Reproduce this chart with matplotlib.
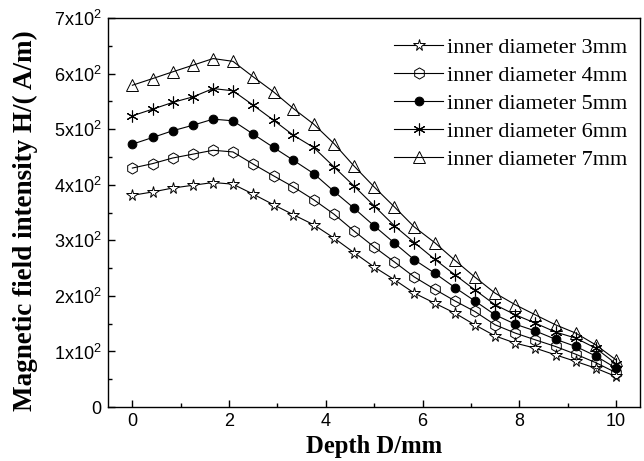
import numpy as np
import matplotlib
matplotlib.use('Agg')
import matplotlib.pyplot as plt
from matplotlib.ticker import MultipleLocator, FuncFormatter

plt.rcParams['mathtext.default'] = 'regular'

depth = [0, 0.42, 0.83, 1.25, 1.67, 2.08, 2.5, 2.92, 3.33, 3.75, 4.17, 4.58, 5.0,
         5.42, 5.83, 6.25, 6.67, 7.08, 7.5, 7.92, 8.33, 8.75, 9.17, 9.58, 10]

h_3mm = [381, 387, 394, 399, 404, 401, 383, 364, 346, 328, 304, 278, 252,
         229, 205, 187, 169, 148, 128, 115, 106, 94, 82, 70, 55]
h_4mm = [430, 438, 448, 455, 462, 459, 437, 416, 396, 373, 347, 317, 288,
         261, 234, 212, 191, 172, 148, 133, 121, 109, 95, 80, 62]
h_5mm = [473, 485, 497, 507, 518, 515, 491, 467, 444, 420, 388, 358, 326,
         295, 265, 241, 215, 191, 166, 149, 137, 122, 109, 92, 70]
h_6mm = [524, 536, 548, 558, 573, 569, 543, 516, 489, 467, 432, 398, 362,
         326, 296, 266, 238, 211, 184, 166, 151, 135, 124, 106, 78]
h_7mm = [579, 591, 603, 615, 627, 622, 594, 567, 537, 509, 474, 434, 396,
         360, 324, 296, 264, 234, 205, 184, 166, 148, 133, 112, 85]

labels = ['inner diameter 3mm', 'inner diameter 4mm', 'inner diameter 5mm',
          'inner diameter 6mm', 'inner diameter 7mm']

fig = plt.figure(figsize=(6.44, 4.61), dpi=100)
ax = fig.add_axes([0.168, 0.117, 0.826, 0.844])

lw = 0.8
ax.plot(depth, h_3mm, '-', color='black', lw=lw, marker='*', ms=8.5, mfc='white', mec='black', mew=0.7, label=labels[0])
ax.plot(depth, h_4mm, '-', color='black', lw=lw, marker='h', ms=8, mfc='none', mec='black', mew=0.7, label=labels[1])
ax.plot(depth, h_5mm, '-', color='black', lw=lw, marker='o', ms=6.3, mfc='black', mec='black', mew=0.7, label=labels[2])
ax.plot(depth, h_6mm, '-', color='black', lw=lw, marker=(6, 2, 0), ms=8.5, mec='black', mew=0.8, label=labels[3])
ax.plot(depth, h_7mm, '-', color='black', lw=lw, marker='^', ms=8, mfc='none', mec='black', mew=0.7, label=labels[4])

ax.set_xlim(-0.5, 10.5)
ax.set_ylim(0, 700)

ax.xaxis.set_major_locator(MultipleLocator(2))
ax.xaxis.set_minor_locator(MultipleLocator(1))
ax.yaxis.set_major_locator(MultipleLocator(100))
ax.yaxis.set_minor_locator(MultipleLocator(50))

def yfmt(v, pos):
    n = int(round(v / 100))
    if n == 0:
        return '0'
    return '%dx10$^{2}$' % n

ax.yaxis.set_major_formatter(FuncFormatter(yfmt))
ax.tick_params(which='both', direction='in', top=False, right=False, width=1)
ax.tick_params(which='major', length=5, labelsize=13)
ax.tick_params(axis='x', which='major', pad=4)
ax.tick_params(axis='y', which='major', pad=5)
ax.tick_params(which='minor', length=3)
for lab in ax.get_xticklabels() + ax.get_yticklabels():
    lab.set_family('Liberation Sans')
for s in ax.spines.values():
    s.set_linewidth(1.0)

ax.set_xlabel('Depth D/mm', family='Liberation Serif', fontweight='bold', fontsize=17.7, labelpad=4)
ax.set_ylabel('Magnetic field intensity H/( A/m)', family='Liberation Serif',
              fontweight='bold', fontsize=19.5)
ax.yaxis.set_label_coords(-0.132, 0.478)

ax.legend(loc='upper right', bbox_to_anchor=(1.0, 0.984), frameon=False,
          prop={'family': 'Liberation Serif', 'size': 16},
          labelspacing=0.33, handlelength=2.2, handletextpad=0.15, borderaxespad=0.2)

fig.savefig('out.png', dpi=100)
